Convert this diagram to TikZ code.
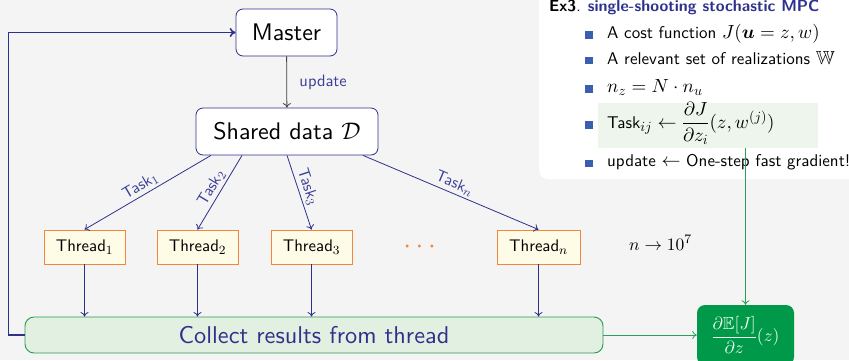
\RequirePackage{fix-cm}
\documentclass[tikz,border=0pt]{standalone}
\usepackage{fontspec}
\usepackage{amsmath,amssymb,bm}
\usetikzlibrary{arrows.meta}

% one design size of Latin Modern Sans, scaled, for every text size
\setsansfont{lmsans10-regular.otf}[BoldFont=lmsans10-bold.otf,
  ItalicFont=lmsans10-oblique.otf, BoldItalicFont=lmsans10-boldoblique.otf]

% math: sturdier small designs for indices, the 10pt design above
\DeclareFontShape{OML}{cmm}{m}{it}{<-14>cmmi8<14->cmmi10}{\skewchar\font'177}
\DeclareFontShape{OML}{cmm}{b}{it}{<->cmmib10}{\skewchar\font'177}
\DeclareFontShape{OMS}{cmsy}{m}{n}{<-14>cmsy8<14->cmsy10}{\skewchar\font'60}
\DeclareFontShape{OT1}{cmr}{m}{n}{<-14>cmr8<14->cmr10}{}
\DeclareMathSizes{16}{16}{12}{9}
\DeclareMathSizes{16.5}{16.5}{12.3}{9.3}
\DeclareMathSizes{16.8}{16.8}{12.6}{9.5}
\DeclareMathSizes{17}{19}{14}{10.5}
\DeclareMathSizes{17.5}{17.5}{13}{10}
\DeclareMathSizes{24}{24}{17.5}{13}
\DeclareMathSizes{24.3}{24.3}{17.7}{13}

\definecolor{bgcol}{HTML}{F4F4F4}
\definecolor{navy}{HTML}{2E318C}
\definecolor{labblue}{HTML}{3A3F96}
\definecolor{thrborder}{HTML}{F0873C}
\definecolor{thrfill}{HTML}{FEFBE6}
\definecolor{colfill}{HTML}{E2F0E1}
\definecolor{colborder}{HTML}{2B9A4E}
\definecolor{gradgreen}{HTML}{00994A}
\definecolor{linkgreen}{HTML}{27A257}
\definecolor{hlfill}{HTML}{EDF5EC}
\definecolor{bulletblue}{HTML}{3B5EAE}

\tikzset{
  mainbox/.style={draw=navy, line width=0.8pt, fill=white, rounded corners=7pt,
    minimum height=47pt, inner sep=0pt, font=\fontsize{24}{28}\sffamily\selectfont},
  threadbox/.style={draw=thrborder, line width=0.9pt, fill=thrfill,
    minimum height=34pt, minimum width=81pt, inner sep=0pt,
    font=\fontsize{16.8}{20}\sffamily\selectfont},
  flow/.style={draw=navy, line width=0.8pt, -{To[length=4.5pt,width=8pt]}},
  tasklab/.style={text=labblue, font=\fontsize{16}{18}\sffamily\selectfont,
    sloped, above, inner sep=2.5pt},
  itemtext/.style={anchor=base west, inner sep=0pt,
    font=\fontsize{17}{20}\sffamily\selectfont},
  bulletsq/.style={fill=bulletblue},
  greenlink/.style={draw=linkgreen, line width=0.8pt, -{To[length=4.5pt,width=8pt]}},
}

\begin{document}
\begin{tikzpicture}[x=1pt, y=-1pt]
  % canvas
  \useasboundingbox (0,0) rectangle (849,360);
  \fill[bgcol] (0,0) rectangle (849,360);

  % side panel with the example
  \fill[white, rounded corners=9pt] (539,-20) rectangle (880,179);
  \node[anchor=base west, inner sep=0pt, font=\fontsize{16}{19}\sffamily\selectfont]
    (title) at (549,11.5)
    {\textbf{Ex3}. \textcolor{navy}{\textbf{single-shooting stochastic MPC}}};

  \node[fill=hlfill, minimum width=220pt, minimum height=45pt, inner sep=0pt]
    (hl) at (708,125.5) {};

  \foreach \yb in {38.3, 64, 92.3, 128.3, 166.7}
    \fill[bulletsq] (585,\yb-7) rectangle (592.5,\yb+0.3);

  \node[itemtext] (it1) at (607,38.3) {A cost function $J(\bm{u} = z, w)$};
  \node[itemtext] (it2) at (607,64) {A relevant set of realizations $\mathbb{W}$};
  \node[itemtext] (it3) at (607,92.3) {$n_z = N \cdot n_u$};
  \node[itemtext] (it4) at (607,128.3)
    {Task$_{ij} \leftarrow \dfrac{\partial J}{\partial z_i}(z, w^{(j)})$};
  \node[itemtext] (it5) at (607,166.7) {update $\leftarrow$ One-step fast gradient!};

  % master and shared data
  \node[mainbox, minimum width=101pt] (master) at (286.5,32.5) {Master};
  \node[mainbox, minimum width=182pt] (shared) at (287,131.5) {Shared data $\mathcal{D}$};

  % worker threads
  \node[threadbox] (t1) at (84.5,247) {Thread$_1$};
  \node[threadbox] (t2) at (197.5,247) {Thread$_2$};
  \node[threadbox] (t3) at (311.5,247) {Thread$_3$};
  \node[threadbox, minimum width=83pt] (tn) at (538.5,247) {Thread$_n$};
  \node[anchor=base, inner sep=0pt, text=thrborder, font=\fontsize{28}{30}\selectfont]
    (dots) at (422,253.7) {$\cdots$};
  \node[anchor=base west, inner sep=0pt, font=\fontsize{17.5}{21}\selectfont]
    (scale) at (629,250) {$n \rightarrow 10^7$};

  % result collection and the gradient
  \node[draw=colborder, line width=0.9pt, fill=colfill, rounded corners=9pt,
    minimum width=578pt, minimum height=36pt, inner sep=0pt, text=navy,
    font=\fontsize{24.3}{28}\sffamily\selectfont]
    (collect) at (314,335) {Collect results from thread};
  \node[fill=gradgreen, rounded corners=8pt, minimum width=97pt, minimum height=60pt,
    inner sep=0pt, text=white!92!green, font=\fontsize{17.5}{20}\selectfont]
    (grad) at (745.5,335) {$\dfrac{\partial \mathbb{E}[J]}{\partial z}(z)$};

  % connectors
  \draw[draw=black!75, line width=0.8pt, -{To[length=4.5pt,width=8pt]}]
    (master) -- (shared)
    node[midway, right=9pt, text=labblue, font=\fontsize{16.5}{19}\sffamily\selectfont] {update};

  \draw[flow] ([xshift=-76pt]shared.south) -- (t1.north)
    node[tasklab, pos=0.52] {Task$_1$};
  \draw[flow] ([xshift=-45pt]shared.south) -- (t2.north)
    node[tasklab, pos=0.5] {Task$_2$};
  \draw[flow] (shared.south) -- (t3.north)
    node[tasklab, pos=0.47] {Task$_3$};
  \draw[flow] ([xshift=76pt]shared.south) -- (tn.north)
    node[tasklab, pos=0.5] {Task$_n$};

  \foreach \t in {t1,t2,t3,tn}
    \draw[flow] (\t.south) -- (\t.south |- collect.north);

  \draw[draw=navy, line width=1.6pt, -{To[length=6pt,width=9pt]}]
    (collect.west) -- ++(-16,0) |- (master.west);

  \draw[greenlink] (collect.east) -- (grad.west);
  \draw[greenlink] (hl.south -| grad.north) -- (grad.north);
\end{tikzpicture}
\end{document}
